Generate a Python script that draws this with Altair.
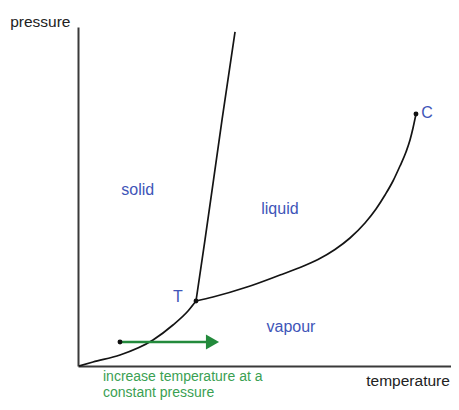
import altair as alt
import pandas as pd

# Phase diagram curves (arbitrary units: temperature, pressure 0-100)
sub_t = [0.26, 3.94, 11.02, 19.69, 24.93, 28.87, 30.97]
sub_p = [0.0, 1.18, 3.24, 7.67, 12.09, 16.22, 19.17]

melt_t = [30.97, 33.33, 37.80, 41.21]
melt_p = [19.17, 37.17, 72.57, 98.53]

vap_t = [30.97, 35.43, 44.36, 53.02, 58.27, 62.99, 67.45, 71.39, 75.33, 78.22, 80.58,
         82.68, 84.51, 86.09, 87.14, 87.93, 88.71]
vap_p = [19.17, 20.35, 23.30, 26.84, 29.06, 31.42, 34.37, 37.76, 42.18, 46.31, 50.44,
         54.57, 58.99, 63.13, 66.67, 70.21, 74.34]

dot_t = [30.97, 88.71, 11.02]
dot_p = [19.17, 74.34, 7.08]

arrow_t = [11.02, 33.6]
arrow_p = [7.08, 7.08]
head_t = [35.3]
head_p = [7.08]

region_labels = ["solid", "liquid", "vapour", "T", "C"]
region_t = [15.7, 53.0, 55.9, 26.2, 91.6]
region_p = [51.9, 46.3, 11.5, 20.4, 74.6]

axis_labels = ["pressure", "temperature"]
axis_lab_t = [-17.8, 97.6]
axis_lab_p = [101.5, -4.4]

note_lines = ["increase temperature at a", "constant pressure"]
note_t = [6.56, 6.56]
note_p = [-4.43, -9.14]

def curve_df(t, p):
    return pd.DataFrame({"t": t, "p": p, "i": list(range(len(t)))})

xs = alt.Scale(domain=[0, 97.9], nice=False, zero=False)
ys = alt.Scale(domain=[0, 100], nice=False, zero=False)
ax = alt.Axis(labels=False, ticks=False, grid=False, title="", domainColor="#3a3a3a", domainWidth=2)

def X():
    return alt.X("t:Q", scale=xs, axis=ax)

def Y():
    return alt.Y("p:Q", scale=ys, axis=ax)

curves = []
for t, p in [(sub_t, sub_p), (melt_t, melt_p), (vap_t, vap_p)]:
    curves.append(
        alt.Chart(curve_df(t, p)).mark_line(color="#141414", strokeWidth=1.7, interpolate="monotone")
        .encode(x=X(), y=Y(), order="i:Q")
    )

arrow = alt.Chart(curve_df(arrow_t, arrow_p)).mark_line(color="#238a3c", strokeWidth=2.6).encode(x=X(), y=Y(), order="i:Q")
head = alt.Chart(pd.DataFrame({"t": head_t, "p": head_p})).mark_point(
    shape="triangle-right", filled=True, color="#238a3c", size=230, opacity=1
).encode(x=X(), y=Y())

dots = alt.Chart(pd.DataFrame({"t": dot_t, "p": dot_p})).mark_circle(color="#111111", size=24, opacity=1).encode(x=X(), y=Y())

regions = alt.Chart(pd.DataFrame({"t": region_t, "p": region_p, "lab": region_labels})).mark_text(
    font="Liberation Sans", fontSize=16, color="#4055b8", align="center", baseline="middle"
).encode(x=X(), y=Y(), text="lab:N")

axis_left = alt.Chart(pd.DataFrame({"t": axis_lab_t[:1], "p": axis_lab_p[:1], "lab": axis_labels[:1]})).mark_text(
    font="Liberation Sans", fontSize=15.5, color="#222222", align="left", baseline="middle"
).encode(x=X(), y=Y(), text="lab:N")
axis_right = alt.Chart(pd.DataFrame({"t": axis_lab_t[1:], "p": axis_lab_p[1:], "lab": axis_labels[1:]})).mark_text(
    font="Liberation Sans", fontSize=15.5, color="#222222", align="right", baseline="middle"
).encode(x=X(), y=Y(), text="lab:N")

notes = alt.Chart(pd.DataFrame({"t": note_t, "p": note_p, "lab": note_lines})).mark_text(
    font="Liberation Sans", fontSize=14, color="#3aa052", align="left", baseline="alphabetic"
).encode(x=X(), y=Y(), text="lab:N")

chart = alt.layer(*curves, arrow, head, dots, regions, axis_left, axis_right, notes).properties(
    width=373, height=339,
    autosize=alt.AutoSizeParams(type="none"),
    padding={"left": 70, "top": 19, "right": 0, "bottom": 34},
    background="white",
).configure_view(stroke=None)

chart.save("out.html", embed_options={"renderer": "svg", "actions": False})
